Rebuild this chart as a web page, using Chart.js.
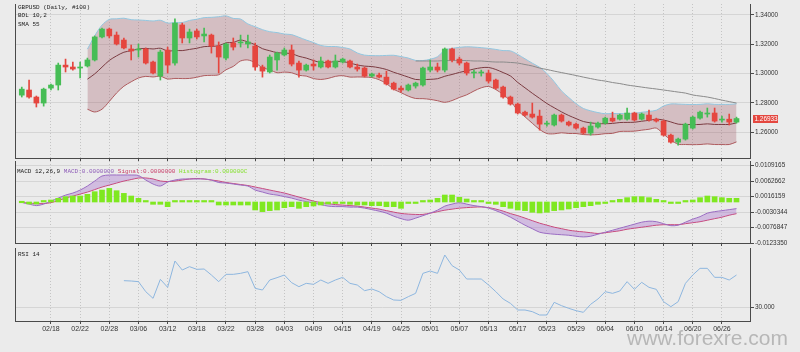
<!DOCTYPE html>
<html><head><meta charset="utf-8">
<script src="https://cdn.jsdelivr.net/npm/chart.js@4.4.1/dist/chart.umd.min.js"></script>
<style>
html,body{margin:0;padding:0;background:#ebebeb;}
#wrap{position:relative;width:800px;height:352px;overflow:hidden;background:#ebebeb;}
canvas{position:absolute;left:0;}
.lg{position:absolute;font-family:"Liberation Mono","DejaVu Sans Mono",monospace;font-size:6px;line-height:8.3px;color:#222;white-space:pre;}
#wm{position:absolute;left:627px;top:327px;font-family:"Liberation Sans",Arial,sans-serif;font-size:21px;line-height:21px;color:#b7b7b7;}
</style></head><body>
<div id="wrap">
<canvas id="c1" width="800" height="161" style="top:0"></canvas>
<canvas id="c2" width="800" height="85" style="top:161px"></canvas>
<canvas id="c3" width="800" height="106" style="top:246px"></canvas>
<div class="lg" style="left:18px;top:4px">GBPUSD (Daily, #100)<br>BOL 10,2<br>SMA 55</div>
<div class="lg" style="left:17px;top:167.5px">MACD 12,26,9 <span style="color:#8e5cb8">MACD:0.0000000</span> <span style="color:#c8406a">Signal:0.0000000</span> <span style="color:#86e030">Histogram:0.000000C</span></div>
<div class="lg" style="left:18px;top:251px">RSI 14</div>
<div id="wm">www.forexre.com</div>
</div>
<script>
const dates = ['02/12','02/13','02/14','02/15','02/18','02/19','02/20','02/21','02/22','02/25','02/26','02/27','02/28',
'03/01','03/04','03/05','03/06','03/07','03/08','03/11','03/12','03/13','03/14','03/15','03/18','03/19','03/20','03/21','03/22','03/25','03/26','03/27','03/28','03/29',
'04/01','04/02','04/03','04/04','04/05','04/08','04/09','04/10','04/11','04/12','04/15','04/16','04/17','04/18','04/19','04/22','04/23','04/24','04/25','04/26','04/29','04/30',
'05/01','05/02','05/03','05/06','05/07','05/08','05/09','05/10','05/13','05/14','05/15','05/16','05/17','05/20','05/21','05/22','05/23','05/24','05/27','05/28','05/29','05/30','05/31',
'06/03','06/04','06/05','06/06','06/07','06/10','06/11','06/12','06/13','06/14','06/17','06/18','06/19','06/20','06/21','06/24','06/25','06/26','06/27','06/28'];
const tickDates = ['02/18','02/22','02/28','03/06','03/12','03/18','03/22','03/28','04/03','04/09','04/15','04/19','04/25','05/01','05/07','05/13','05/17','05/23','05/29','06/04','06/10','06/14','06/20','06/26'];

const open = [1.2853,1.2888,1.2840,1.2799,1.2901,1.2922,1.3058,1.3045,1.3038,1.3052,1.3093,1.3250,1.3304,1.3263,1.3229,1.3168,1.3161,1.3168,1.3079,1.2983,
1.3161,1.3072,1.3332,1.3243,1.3291,1.3257,1.3263,1.3188,1.3106,1.3209,1.3209,1.3202,1.3188,1.3045,1.3011,1.3093,1.3127,1.3161,1.3072,1.3024,
1.3065,1.3045,1.3086,1.3045,1.3079,1.3086,1.3045,1.3038,1.2983,1.2990,1.2976,1.2935,1.2901,1.2888,1.2915,1.2922,1.3024,1.3045,1.3024,1.3168,
1.3099,1.3072,1.3004,1.3004,1.3004,1.2956,1.2908,1.2840,1.2792,1.2737,1.2724,1.2710,1.2655,1.2649,1.2717,1.2669,1.2655,1.2628,1.2594,1.2635,
1.2662,1.2696,1.2689,1.2689,1.2731,1.2689,1.2717,1.2689,1.2676,1.2580,1.2532,1.2553,1.2628,1.2696,1.2724,1.2731,1.2683,1.2689,1.2669];
const high = [1.2908,1.2956,1.2847,1.2901,1.2929,1.3072,1.3099,1.3079,1.3079,1.3106,1.3257,1.3311,1.3311,1.3284,1.3243,1.3195,1.3202,1.3175,1.3086,1.3161,
1.3181,1.3373,1.3345,1.3304,1.3304,1.3311,1.3270,1.3216,1.3209,1.3243,1.3263,1.3263,1.3209,1.3058,1.3127,1.3147,1.3175,1.3195,1.3086,1.3065,
1.3093,1.3113,1.3093,1.3127,1.3106,1.3093,1.3065,1.3045,1.3004,1.3004,1.3017,1.2942,1.2915,1.2929,1.2942,1.3045,1.3093,1.3072,1.3175,1.3175,
1.3113,1.3079,1.3024,1.3024,1.3024,1.2963,1.2915,1.2847,1.2799,1.2744,1.2799,1.2751,1.2676,1.2724,1.2724,1.2676,1.2662,1.2635,1.2669,1.2669,
1.2703,1.2737,1.2724,1.2765,1.2737,1.2731,1.2751,1.2696,1.2683,1.2587,1.2560,1.2662,1.2710,1.2744,1.2765,1.2765,1.2710,1.2724,1.2703];
const low = [1.2840,1.2833,1.2772,1.2778,1.2888,1.2888,1.3011,1.3024,1.2970,1.3045,1.3086,1.3243,1.3243,1.3195,1.3168,1.3093,1.3113,1.3065,1.2997,1.2956,
1.3004,1.3058,1.3209,1.3209,1.3236,1.3216,1.3140,1.3004,1.3093,1.3161,1.3181,1.3175,1.3024,1.2976,1.3004,1.3024,1.3120,1.3052,1.2976,1.3017,
1.3024,1.3038,1.3038,1.3038,1.3072,1.3038,1.3017,1.2976,1.2976,1.2970,1.2922,1.2888,1.2874,1.2881,1.2901,1.2915,1.3011,1.3011,1.3011,1.3079,
1.3058,1.2990,1.2970,1.2983,1.2935,1.2894,1.2833,1.2785,1.2724,1.2710,1.2696,1.2614,1.2642,1.2642,1.2669,1.2642,1.2621,1.2587,1.2580,1.2628,
1.2655,1.2669,1.2683,1.2683,1.2676,1.2683,1.2676,1.2669,1.2573,1.2526,1.2512,1.2546,1.2621,1.2689,1.2703,1.2669,1.2669,1.2649,1.2662];
const close = [1.2894,1.2840,1.2799,1.2894,1.2922,1.3058,1.3045,1.3031,1.3045,1.3093,1.3250,1.3304,1.3257,1.3202,1.3175,1.3154,1.3168,1.3072,1.3004,1.3147,
1.3058,1.3345,1.3243,1.3284,1.3250,1.3270,1.3188,1.3113,1.3202,1.3181,1.3216,1.3216,1.3045,1.3017,1.3113,1.3140,1.3161,1.3065,1.3024,1.3058,
1.3052,1.3086,1.3045,1.3086,1.3099,1.3045,1.3031,1.2983,1.2997,1.2976,1.2929,1.2894,1.2888,1.2922,1.2935,1.3038,1.3045,1.3024,1.3168,1.3093,
1.3072,1.3004,1.3011,1.3011,1.2949,1.2901,1.2840,1.2792,1.2731,1.2717,1.2703,1.2655,1.2662,1.2717,1.2676,1.2649,1.2628,1.2594,1.2642,1.2662,
1.2696,1.2676,1.2717,1.2731,1.2683,1.2724,1.2683,1.2676,1.2580,1.2532,1.2553,1.2655,1.2703,1.2737,1.2731,1.2676,1.2689,1.2669,1.26933];
const lastPrice = 1.26933;

const N9 = [null,null,null,null,null,null,null,null,null];
const bbMid = N9.concat([1.2962,1.2998,1.3044,1.3090,1.3121,1.3146,1.3156,1.3168,1.3172,1.3168,
1.3173,1.3154,1.3158,1.3157,1.3165,1.3173,1.3184,1.3186,1.3190,1.3210,
1.3213,1.3229,1.3216,1.3197,1.3170,1.3156,1.3143,1.3140,1.3136,1.3118,
1.3106,1.3089,1.3076,1.3076,1.3083,1.3082,1.3072,1.3059,1.3051,1.3048,
1.3040,1.3028,1.3009,1.2993,1.2976,1.2960,1.2959,1.2961,1.2965,1.2982,
1.2994,1.3008,1.3019,1.3031,1.3040,1.3042,1.3028,1.3007,1.2984,1.2940,
1.2903,1.2866,1.2831,1.2796,1.2767,1.2739,1.2714,1.2693,1.2673,1.2664,
1.2659,1.2658,1.2660,1.2666,1.2667,1.2668,1.2675,1.2681,1.2689,1.2683,
1.2670,1.2655,1.2653,1.2652,1.2653,1.2657,1.2653,1.2653,1.2653,1.2664]);
const bbUpper = N9.concat([1.3167,1.3258,1.3331,1.3370,1.3374,1.3378,1.3368,1.3366,1.3363,1.3359,
1.3364,1.3345,1.3349,1.3348,1.3363,1.3371,1.3382,1.3384,1.3388,1.3394,
1.3377,1.3372,1.3339,1.3320,1.3300,1.3286,1.3280,1.3270,1.3266,1.3248,
1.3229,1.3212,1.3192,1.3185,1.3185,1.3178,1.3168,1.3141,1.3126,1.3123,
1.3122,1.3124,1.3125,1.3116,1.3106,1.3090,1.3089,1.3098,1.3115,1.3160,
1.3172,1.3179,1.3183,1.3181,1.3177,1.3172,1.3165,1.3157,1.3155,1.3131,
1.3101,1.3071,1.3043,1.3001,1.2945,1.2882,1.2837,1.2795,1.2762,1.2746,
1.2734,1.2726,1.2728,1.2727,1.2728,1.2729,1.2736,1.2742,1.2750,1.2779,
1.2793,1.2792,1.2790,1.2789,1.2790,1.2794,1.2790,1.2790,1.2790,1.2794]);
const bbLower = N9.concat([1.2757,1.2738,1.2757,1.2810,1.2868,1.2914,1.2944,1.2970,1.2981,1.2977,
1.2982,1.2963,1.2967,1.2966,1.2967,1.2975,1.2986,1.2988,1.2992,1.3026,
1.3049,1.3086,1.3093,1.3074,1.3040,1.3026,1.3006,1.3010,1.3006,1.2988,
1.2983,1.2966,1.2960,1.2967,1.2981,1.2986,1.2976,1.2977,1.2976,1.2973,
1.2958,1.2932,1.2893,1.2870,1.2846,1.2830,1.2829,1.2824,1.2815,1.2804,
1.2816,1.2837,1.2855,1.2881,1.2903,1.2912,1.2891,1.2857,1.2813,1.2749,
1.2705,1.2661,1.2619,1.2591,1.2589,1.2596,1.2591,1.2591,1.2584,1.2582,
1.2584,1.2590,1.2592,1.2605,1.2606,1.2607,1.2614,1.2620,1.2628,1.2587,
1.2547,1.2518,1.2516,1.2515,1.2516,1.2520,1.2516,1.2516,1.2516,1.2534]);
const sma55Start = 54;
const sma55 = [1.3086,1.3086,1.3086,1.3086,1.3089,1.3089,1.3089,1.3089,1.3086,1.3086,
1.3082,1.3079,1.3079,1.3076,1.3072,1.3062,1.3052,1.3038,1.3028,1.3017,
1.3007,1.2997,1.2987,1.2976,1.2966,1.2956,1.2949,1.2939,1.2932,1.2922,
1.2915,1.2908,1.2901,1.2895,1.2888,1.2881,1.2874,1.2867,1.2854,1.2847,
1.2840,1.2830,1.2819,1.2809,1.2799];

const macd = [-0.00012,-0.00063,-0.00109,-0.00063,0.00027,0.00118,0.00208,0.00269,0.00359,0.00480,
0.00631,0.00782,0.00812,0.00812,0.00812,0.00812,0.00797,0.00661,0.00541,0.00480,
0.00601,0.00661,0.00692,0.00692,0.00692,0.00692,0.00661,0.00586,0.00571,0.00541,
0.00510,0.00480,0.00359,0.00299,0.00239,0.00208,0.00163,0.00118,0.00057,0.00012,
-0.00033,-0.00079,-0.00124,-0.00139,-0.00139,-0.00154,-0.00154,-0.00184,-0.00230,-0.00275,
-0.00335,-0.00426,-0.00501,-0.00547,-0.00486,-0.00411,-0.00335,-0.00245,-0.00124,-0.00063,
-0.00018,-0.00063,-0.00109,-0.00139,-0.00184,-0.00260,-0.00350,-0.00456,-0.00577,-0.00698,
-0.00803,-0.00909,-0.00948,-0.00969,-0.00985,-0.01000,-0.01030,-0.01051,-0.01030,-0.00969,
-0.00909,-0.00849,-0.00788,-0.00728,-0.00667,-0.00607,-0.00577,-0.00592,-0.00652,-0.00713,
-0.00698,-0.00607,-0.00516,-0.00441,-0.00335,-0.00290,-0.00260,-0.00230,-0.00199];
const signal = [-0.00012,-0.00033,-0.00048,-0.00048,-0.00018,0.00042,0.00118,0.00178,0.00239,0.00299,
0.00374,0.00450,0.00510,0.00571,0.00631,0.00676,0.00722,0.00722,0.00692,0.00631,
0.00616,0.00631,0.00661,0.00692,0.00707,0.00692,0.00661,0.00631,0.00586,0.00556,
0.00525,0.00495,0.00450,0.00405,0.00359,0.00314,0.00269,0.00208,0.00148,0.00088,
0.00027,-0.00018,-0.00048,-0.00079,-0.00094,-0.00109,-0.00124,-0.00154,-0.00184,-0.00214,
-0.00260,-0.00305,-0.00344,-0.00365,-0.00374,-0.00374,-0.00335,-0.00290,-0.00245,-0.00214,
-0.00184,-0.00169,-0.00154,-0.00148,-0.00169,-0.00214,-0.00275,-0.00350,-0.00411,-0.00486,
-0.00562,-0.00637,-0.00698,-0.00758,-0.00803,-0.00849,-0.00879,-0.00900,-0.00924,-0.00948,
-0.00924,-0.00894,-0.00864,-0.00818,-0.00788,-0.00758,-0.00728,-0.00698,-0.00683,-0.00683,
-0.00683,-0.00652,-0.00622,-0.00592,-0.00547,-0.00501,-0.00456,-0.00396,-0.00350];
const histogram = [0,-0.0006,-0.0006,0.0001,0.0006,0.0011,0.0016,0.0018,0.0018,0.0023,
0.0031,0.0036,0.0041,0.0034,0.0026,0.0018,0.0011,0.0001,-0.0007,-0.0007,
-0.0014,0.0001,0.0001,0.0003,0.0003,0.0003,0.0001,-0.0009,-0.0009,-0.0009,
-0.0009,-0.0009,-0.0024,-0.0029,-0.0026,-0.0024,-0.0017,-0.0014,-0.0019,-0.0014,
-0.0012,-0.0009,-0.0006,-0.0004,-0.0004,-0.0007,-0.0009,-0.0009,-0.0011,-0.0011,
-0.0014,-0.0014,-0.0019,-0.0002,-0.0001,0.0001,0.0006,0.0011,0.0021,0.0021,
0.0014,0.0009,0.0001,0.0001,-0.0001,-0.0007,-0.0014,-0.0019,-0.0024,-0.0026,
-0.0031,-0.0033,-0.0031,-0.0026,-0.0024,-0.0021,-0.0017,-0.0014,-0.0011,-0.0007,
-0.0001,0.0003,0.0008,0.0013,0.0016,0.0016,0.0013,0.0008,0.0001,-0.0002,
-0.0001,0.0001,0.0006,0.0013,0.0018,0.0016,0.0013,0.0011,0.0011];
const macdTicks = [-0.0123350,-0.0076847,-0.0030344,0.0016159,0.0062662,0.0109165];

const rsiStart = 14;
const rsi = [45.8,45.6,45.2,39.2,35.2,46.6,41.8,57.6,52.2,54.2,
52.6,52.8,49.2,45.2,49.6,49.6,50.2,51.2,41.2,40.2,
46.2,47.6,49.2,44.6,42.2,44.2,43.6,46.2,44.2,46.2,
47.8,44.2,43.2,39.8,40.8,39.2,36.2,34.2,34.0,36.2,
38.2,50.2,51.6,50.2,61.2,54.8,52.2,46.8,46.8,46.8,
43.2,39.2,34.8,32.2,28.2,28.2,27.2,25.2,25.2,32.8,
30.8,29.2,27.8,26.8,31.6,34.8,39.2,38.2,39.6,45.2,
40.6,44.8,41.8,40.6,33.2,30.2,33.2,44.2,49.2,53.2,
53.2,47.8,47.8,46.2,49.2];
const priceTicks = [1.26,1.28,1.30,1.32,1.34];
const rsiTicks = [30];

// ---------- layout / style helpers ----------
const XMIN = -0.93, XMAX = 99.85;
const tickIdx = tickDates.map(d => dates.indexOf(d));
const FONT = '"Liberation Sans", Arial, sans-serif';
const AX = '#4a4a4a';
const pts = (arr, start) => arr.map((v, k) => ({x: k + (start || 0), y: v})).filter(p => p.y !== null);

function xScale(showLabels, h) {
  return {
    type: 'linear', min: XMIN, max: XMAX, offset: false,
    afterBuildTicks: s => { s.ticks = tickIdx.map(v => ({value: v})); },
    afterFit: s => { s.height = h; s.paddingLeft = 0; s.paddingRight = 0; },
    grid: {color: '#c4c4c4', lineWidth: 1, offset: false, drawTicks: true, tickLength: 3, tickColor: AX, tickWidth: 1},
    border: {display: true, color: AX, width: 1, dash: [1, 2]},
    ticks: {display: showLabels, autoSkip: false, maxRotation: 0, minRotation: 0, padding: 1,
      font: {size: 7, family: FONT}, color: '#333', callback: v => dates[v]}
  };
}
function yScale(min, max, ticks, fmt) {
  return {
    type: 'linear', position: 'right', min: min, max: max,
    afterBuildTicks: s => { s.ticks = ticks.map(v => ({value: v})); },
    afterFit: s => { s.width = 50; s.paddingTop = 0; s.paddingBottom = 0; },
    grid: {color: '#d5d5d5', lineWidth: 1, drawTicks: true, tickLength: 4, tickColor: AX},
    border: {display: true, color: AX, width: 1},
    ticks: {padding: 1, font: {size: 6.4, family: FONT}, color: '#333', callback: fmt}
  };
}
const leftBorder = {
  id: 'leftBorder',
  afterDraw(chart) {
    const a = chart.chartArea, ctx = chart.ctx;
    ctx.save(); ctx.strokeStyle = AX; ctx.lineWidth = 1;
    ctx.beginPath(); ctx.moveTo(a.left + 0.5, a.top); ctx.lineTo(a.left + 0.5, a.bottom); ctx.stroke();
    ctx.restore();
  }
};
const priceTag = {
  id: 'priceTag',
  afterDraw(chart) {
    const ctx = chart.ctx, y = chart.scales.y.getPixelForValue(lastPrice);
    ctx.save();
    ctx.fillStyle = '#e4473f'; ctx.fillRect(753, Math.round(y) - 4, 25, 8);
    ctx.fillStyle = '#ffffff'; ctx.font = '6.4px ' + FONT; ctx.textBaseline = 'middle';
    ctx.fillText(lastPrice.toFixed(5), 754.5, y + 0.5);
    ctx.restore();
  }
};
const common = {responsive: false, animation: false, devicePixelRatio: 1,
  plugins: {legend: {display: false}, tooltip: {enabled: false}}};

const GREEN = '#46bd55', RED = '#e5463f';
const candleColor = open.map((o, i) => close[i] >= o ? GREEN : RED);

// ---------- price panel ----------
new Chart(document.getElementById('c1'), {
  type: 'line',
  data: { datasets: [
    {type: 'bar', data: open.map((o, i) => ({x: i, y: [o, close[i]]})), backgroundColor: candleColor,
      barThickness: 5, minBarLength: 1, grouped: false, borderWidth: 0},
    {type: 'bar', data: low.map((l, i) => ({x: i, y: [l, high[i]]})), backgroundColor: candleColor,
      barThickness: 1, grouped: false, borderWidth: 0},
    {type: 'line', data: pts(bbMid), borderColor: '#7a3a40', borderWidth: 1, pointRadius: 0, tension: 0.3, fill: false},
    {type: 'line', data: pts(sma55, sma55Start), borderColor: '#8a8a8a', borderWidth: 1, pointRadius: 0, tension: 0.3, fill: false},
    {type: 'line', data: pts(bbUpper), borderColor: '#92c6df', borderWidth: 1, pointRadius: 0, tension: 0.3,
      fill: '+1', backgroundColor: 'rgba(150,70,85,0.27)'},
    {type: 'line', data: pts(bbLower), borderColor: '#b25f60', borderWidth: 1, pointRadius: 0, tension: 0.3, fill: false}
  ]},
  options: Object.assign({}, common, {
    layout: {padding: {left: 15, top: 4, right: 0, bottom: 0}},
    scales: {x: xScale(false, 3), y: yScale(1.2424, 1.3475, priceTicks, v => v.toFixed(5))}
  }),
  plugins: [leftBorder, priceTag]
});

// ---------- MACD panel ----------
new Chart(document.getElementById('c2'), {
  type: 'line',
  data: { datasets: [
    {type: 'bar', data: pts(histogram), backgroundColor: '#7fe820', barThickness: 5, minBarLength: 1.5, grouped: false, borderWidth: 0},
    {type: 'line', data: pts(macd), borderColor: '#9a6cc2', borderWidth: 1, pointRadius: 0, tension: 0.3,
      fill: '+1', backgroundColor: 'rgba(175,125,210,0.42)'},
    {type: 'line', data: pts(signal), borderColor: '#cc3f6a', borderWidth: 1, pointRadius: 0, tension: 0.3, fill: false}
  ]},
  options: Object.assign({}, common, {
    layout: {padding: {left: 15, top: 0, right: 0, bottom: 0}},
    scales: {x: xScale(false, 3), y: yScale(-0.012335, 0.012335, macdTicks, v => v.toFixed(7))}
  }),
  plugins: [leftBorder]
});

// ---------- RSI panel ----------
new Chart(document.getElementById('c3'), {
  type: 'line',
  data: { datasets: [
    {type: 'line', data: pts(rsi, rsiStart), borderColor: '#8db6df', borderWidth: 1, pointRadius: 0, tension: 0, fill: false}
  ]},
  options: Object.assign({}, common, {
    layout: {padding: {left: 15, top: 2, right: 0, bottom: 0}},
    scales: {x: xScale(true, 31), y: yScale(21.6, 65.4, rsiTicks, v => v.toFixed(3))}
  }),
  plugins: [leftBorder]
});
</script>
</body></html>
